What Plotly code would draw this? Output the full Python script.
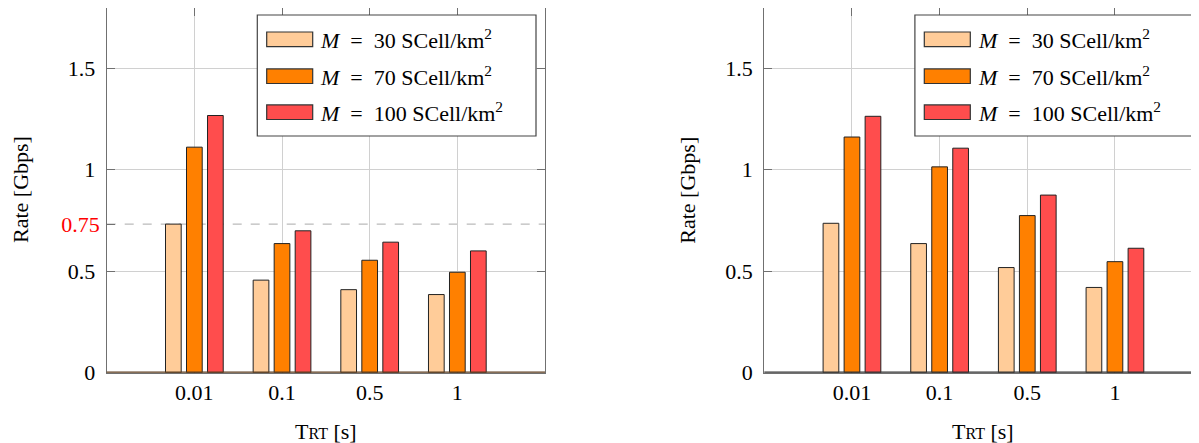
import plotly.graph_objects as go

# ---------------- data ----------------
categories = ["0.01", "0.1", "0.5", "1"]
series_names = [
    "<i>M</i> = 30 SCell/km<sup>2</sup>",
    "<i>M</i> = 70 SCell/km<sup>2</sup>",
    "<i>M</i> = 100 SCell/km<sup>2</sup>",
]
colors = ["#FFCC99", "#FF8000", "#FF4D4D"]

left_m30 = [0.732, 0.456, 0.409, 0.385]
left_m70 = [1.111, 0.636, 0.554, 0.495]
left_m100 = [1.267, 0.699, 0.643, 0.600]

right_m30 = [0.736, 0.636, 0.518, 0.420]
right_m70 = [1.161, 1.014, 0.774, 0.547]
right_m100 = [1.263, 1.106, 0.875, 0.613]

y_tick_vals = [0, 0.5, 1, 1.5]
y_tick_text = ["0", "0.5", "1", "1.5"]
y_max = 1.8
threshold_value = 0.732
threshold_label = "0.75"

x_title = "T<span style='font-size:16px'>RT</span> [s]"
y_title = "Rate [Gbps]"

# ---------------- layout helpers ----------------
PAGE_W, PAGE_H = 1199, 443
OFF = 8  # default body margin of the html page
W, H = PAGE_W - OFF, PAGE_H - OFF
FONT = "Liberation Serif, Times New Roman, serif"
FS = 22


def fx(px):
    return (px - OFF) / W


def fy(py):
    return min(1.0, 1 - (py - OFF) / H)


L_LEFT, L_RIGHT = 106.7, 545.0
R_LEFT = 764.3
UNIT = (L_RIGHT - L_LEFT) / 5.0
R_RIGHT_FULL = R_LEFT + 5 * UNIT
TOP, BOTTOM = 7.3, 372.7
PX_PER_UNIT_Y = (BOTTOM - TOP) / y_max
TOP_VIS = max(TOP, OFF)
y_top_vis = (BOTTOM - TOP_VIS) / PX_PER_UNIT_Y

fig = go.Figure()

left_vals = [left_m30, left_m70, left_m100]
right_vals = [right_m30, right_m70, right_m100]

for i in range(3):
    fig.add_trace(go.Bar(x=categories, y=left_vals[i], xaxis="x", yaxis="y",
                         marker=dict(color=colors[i], line=dict(color="#222222", width=1)),
                         name=series_names[i], showlegend=False, offsetgroup=str(i)))
    fig.add_trace(go.Bar(x=categories, y=right_vals[i], xaxis="x2", yaxis="y2",
                         marker=dict(color=colors[i], line=dict(color="#222222", width=1)),
                         name=series_names[i], showlegend=False, offsetgroup=str(i)))

# invisible anchor trace so that the threshold-label axis is drawn
fig.add_trace(go.Scatter(x=[categories[0]], y=[threshold_value], xaxis="x", yaxis="y3",
                         mode="markers", marker=dict(opacity=0), showlegend=False,
                         hoverinfo="skip"))

frame_col = "#707070"
grid_col = "#D0D0D0"

xcommon = dict(type="category", tickvals=categories, ticktext=categories,
               showgrid=True, gridcolor=grid_col, gridwidth=1,
               showline=True, linecolor=frame_col, linewidth=1.2, mirror="ticks",
               ticks="inside", ticklen=8, tickcolor=frame_col,
               tickfont=dict(family=FONT, size=FS, color="black"),
               ticklabelstandoff=0, layer="below traces", zeroline=False,
               fixedrange=True, automargin=False)
ycommon = dict(range=[0, y_top_vis], tickvals=y_tick_vals, ticktext=y_tick_text,
               showgrid=True, gridcolor=grid_col, gridwidth=1,
               showline=True, linecolor=frame_col, linewidth=1.2, mirror="ticks",
               ticks="inside", ticklen=8, tickcolor=frame_col,
               tickfont=dict(family=FONT, size=FS, color="black"),
               ticklabelstandoff=6, layer="below traces", zeroline=False,
               domain=[fy(BOTTOM), fy(TOP_VIS)], fixedrange=True, automargin=False)

right_range_end = -1 + (PAGE_W - R_LEFT) / UNIT

fig.update_layout(
    width=W, height=H,
    margin=dict(l=0, r=0, t=0, b=0, autoexpand=False),
    paper_bgcolor="white", plot_bgcolor="white",
    barmode="group", bargap=0.281, bargroupgap=0.253,
    showlegend=False,
    font=dict(family=FONT, size=FS, color="black"),
    xaxis=dict(**xcommon, domain=[fx(L_LEFT), fx(L_RIGHT)], range=[-1, 4], anchor="y"),
    yaxis=dict(**ycommon, anchor="x"),
    xaxis2=dict(**xcommon, domain=[fx(R_LEFT), 1.0], range=[-1, right_range_end], anchor="y2"),
    yaxis2=dict(**ycommon, anchor="x2"),
    yaxis3=dict(range=[0, y_top_vis], overlaying="y", anchor="x", side="left",
                tickvals=[threshold_value],
                ticktext=["<span style='color:red'>" + threshold_label + "</span>"],
                showgrid=False, showline=False, zeroline=False,
                ticks="inside", ticklen=8, tickcolor=frame_col,
                tickfont=dict(family=FONT, size=FS, color="red"),
                ticklabelstandoff=6, fixedrange=True, automargin=False),
)

shapes = []
# dashed threshold line (left plot)
shapes.append(dict(type="line", xref="x domain", yref="y", x0=0, x1=1,
                   y0=threshold_value, y1=threshold_value,
                   line=dict(color="#BBBBBB", width=1.2, dash="dash"), layer="below"))
# baselines at y = 0
shapes.append(dict(type="line", xref="x domain", yref="y", x0=0, x1=1, y0=0, y1=0,
                   line=dict(color="#5C3D1E", width=2.2), layer="above"))
shapes.append(dict(type="line", xref="x2 domain", yref="y2", x0=0, x1=1, y0=0, y1=0,
                   line=dict(color="#333333", width=2.2), layer="above"))

annotations = []
# custom legends
for plot_left, box_right in [(L_LEFT, L_RIGHT - 9.0), (R_LEFT, R_LEFT + (L_RIGHT - 9.0 - L_LEFT))]:
    bx0 = plot_left + 150.6
    bx1 = box_right
    shapes.append(dict(type="rect", xref="paper", yref="paper",
                       x0=fx(bx0), x1=fx(bx1), y0=fy(136), y1=fy(15),
                       line=dict(color="#444444", width=1.2), fillcolor="white", layer="above"))
    for i, cy in enumerate([39.3, 76.2, 112.2]):
        shapes.append(dict(type="rect", xref="paper", yref="paper",
                           x0=fx(bx0 + 9.4), x1=fx(bx0 + 55.4), y0=fy(cy + 7.3), y1=fy(cy - 7.3),
                           line=dict(color="#333333", width=1.2), fillcolor=colors[i], layer="above"))
        annotations.append(dict(xref="paper", yref="paper", x=fx(bx0 + 61), y=fy(cy),
                                xanchor="left", yanchor="middle", showarrow=False,
                                text=series_names[i].replace(" = ", "&nbsp;&nbsp;=&nbsp;&nbsp;").replace(" SCell", "&nbsp;SCell"),
                                font=dict(family=FONT, size=FS, color="black")))

# axis titles
for cx, ycx in [((L_LEFT + L_RIGHT) / 2, 20), ((R_LEFT + R_RIGHT_FULL) / 2, 686.7)]:
    annotations.append(dict(xref="paper", yref="paper", x=fx(cx), y=fy(431),
                            xanchor="center", yanchor="middle", showarrow=False,
                            text=x_title, font=dict(family=FONT, size=FS, color="black")))
    annotations.append(dict(xref="paper", yref="paper", x=fx(ycx), y=fy((TOP + BOTTOM) / 2),
                            xanchor="center", yanchor="middle", showarrow=False, textangle=-90,
                            text=y_title, font=dict(family=FONT, size=FS, color="black")))

fig.update_layout(shapes=shapes, annotations=annotations)

fig.write_html("out.html")
